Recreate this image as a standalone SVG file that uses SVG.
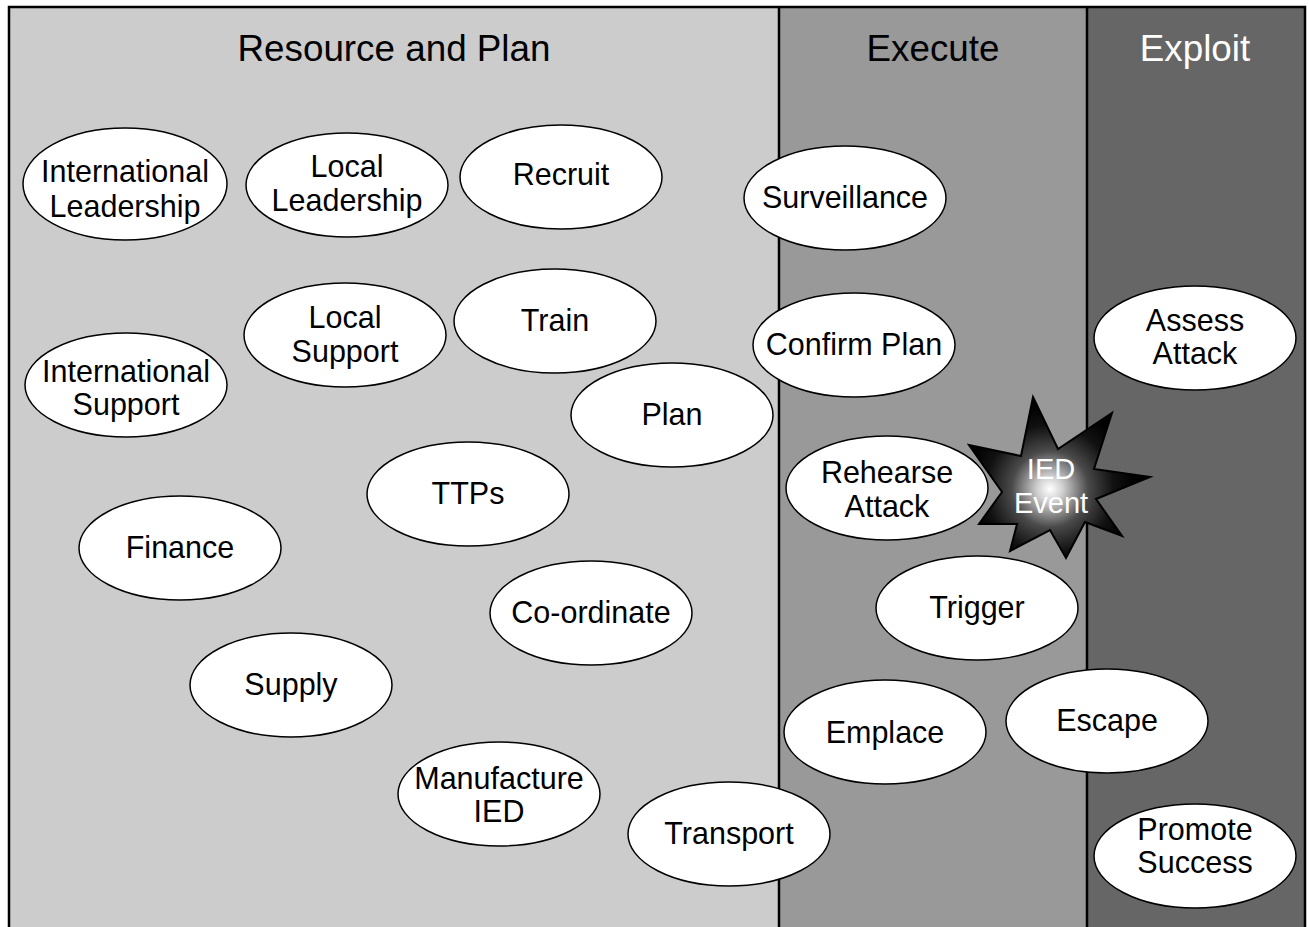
<svg xmlns="http://www.w3.org/2000/svg" width="1309" height="927" viewBox="0 0 1309 927">
<style>
.node ellipse{fill:#fff;stroke:#000;stroke-width:1.5}
.node text{font-family:"Liberation Sans",Arial,sans-serif;font-size:30.5px;text-anchor:middle;fill:#000}
.title{font-family:"Liberation Sans",Arial,sans-serif;font-size:36.8px;text-anchor:middle}
</style>
<defs>
<radialGradient id="glow" gradientUnits="userSpaceOnUse" cx="1050" cy="489" r="85">
<stop offset="0" stop-color="#ffffff"/>
<stop offset="0.15" stop-color="#d0d0d0"/>
<stop offset="0.45" stop-color="#4a4a4a"/>
<stop offset="0.75" stop-color="#111"/>
<stop offset="1" stop-color="#000"/>
</radialGradient>
</defs>
<rect width="1309" height="927" fill="#fff"/>
<g id="panels">
<rect x="9" y="7" width="770" height="930" fill="#cccccc"/>
<rect x="779" y="7" width="308" height="930" fill="#999999"/>
<rect x="1087" y="7" width="218" height="930" fill="#666666"/>
<path d="M9,940 V7 H1305 V940" fill="none" stroke="#000" stroke-width="2.5"/>
<line x1="779" y1="7" x2="779" y2="940" stroke="#000" stroke-width="2.5"/>
<line x1="1087" y1="7" x2="1087" y2="940" stroke="#000" stroke-width="2.5"/>
<text class="title" x="394" y="61" fill="#000">Resource and Plan</text>
<text class="title" x="933" y="61" fill="#000">Execute</text>
<text class="title" x="1195" y="61" fill="#fff">Exploit</text>
</g>
<g id="connectors"></g>
<g id="n1" class="node"><ellipse cx="125" cy="184" rx="102" ry="56"/><text x="125" y="182">International</text><text x="125" y="217">Leadership</text></g>
<g id="n2" class="node"><ellipse cx="347" cy="185" rx="101" ry="52"/><text x="347" y="177">Local</text><text x="347" y="211">Leadership</text></g>
<g id="n3" class="node"><ellipse cx="561" cy="177" rx="101" ry="52"/><text x="561" y="185">Recruit</text></g>
<g id="n4" class="node"><ellipse cx="845" cy="198" rx="101" ry="52"/><text x="845" y="208">Surveillance</text></g>
<g id="n5" class="node"><ellipse cx="345" cy="335" rx="101" ry="52"/><text x="345" y="328">Local</text><text x="345" y="362">Support</text></g>
<g id="n6" class="node"><ellipse cx="555" cy="321" rx="101" ry="52"/><text x="555" y="331">Train</text></g>
<g id="n7" class="node"><ellipse cx="126" cy="385" rx="101" ry="52"/><text x="126" y="382">International</text><text x="126" y="415">Support</text></g>
<g id="n8" class="node"><ellipse cx="854" cy="345" rx="101" ry="52"/><text x="854" y="355">Confirm Plan</text></g>
<g id="n9" class="node"><ellipse cx="1195" cy="338" rx="101" ry="52"/><text x="1195" y="331">Assess</text><text x="1195" y="364">Attack</text></g>
<g id="n10" class="node"><ellipse cx="672" cy="415" rx="101" ry="52"/><text x="672" y="425">Plan</text></g>
<g id="n11" class="node"><ellipse cx="468" cy="494" rx="101" ry="52"/><text x="468" y="504">TTPs</text></g>
<g id="n12" class="node"><ellipse cx="887" cy="488" rx="101" ry="52"/><text x="887" y="483">Rehearse</text><text x="887" y="517">Attack</text></g>
<g id="n13" class="node"><ellipse cx="180" cy="548" rx="101" ry="52"/><text x="180" y="558">Finance</text></g>
<g id="n14" class="node"><ellipse cx="591" cy="613" rx="101" ry="52"/><text x="591" y="623">Co-ordinate</text></g>
<g id="n15" class="node"><ellipse cx="977" cy="608" rx="101" ry="52"/><text x="977" y="618">Trigger</text></g>
<g id="n16" class="node"><ellipse cx="291" cy="685" rx="101" ry="52"/><text x="291" y="695">Supply</text></g>
<g id="n17" class="node"><ellipse cx="885" cy="732" rx="101" ry="52"/><text x="885" y="743">Emplace</text></g>
<g id="n18" class="node"><ellipse cx="1107" cy="721" rx="101" ry="52"/><text x="1107" y="731">Escape</text></g>
<g id="n19" class="node"><ellipse cx="499" cy="794" rx="101" ry="52"/><text x="499" y="789">Manufacture</text><text x="499" y="822">IED</text></g>
<g id="n20" class="node"><ellipse cx="729" cy="834" rx="101" ry="52"/><text x="729" y="844">Transport</text></g>
<g id="n21" class="node"><ellipse cx="1195" cy="856" rx="101" ry="52"/><text x="1195" y="840">Promote</text><text x="1195" y="873">Success</text></g>
<g id="ied">
<polygon points="1033,397 1058,449 1112,413 1094,469 1150,477 1096,499 1122,536 1085,522 1066,558 1050,530 1010,551 1017,524 979,524 1002,492 969,445 1021,456" fill="url(#glow)" stroke="#000" stroke-width="2" stroke-linejoin="miter"/>
<text x="1051" y="479" font-family="Liberation Sans, Arial, sans-serif" font-size="29" text-anchor="middle" fill="#fff">IED</text>
<text x="1051" y="513" font-family="Liberation Sans, Arial, sans-serif" font-size="29" text-anchor="middle" fill="#fff">Event</text>
</g>
</svg>
